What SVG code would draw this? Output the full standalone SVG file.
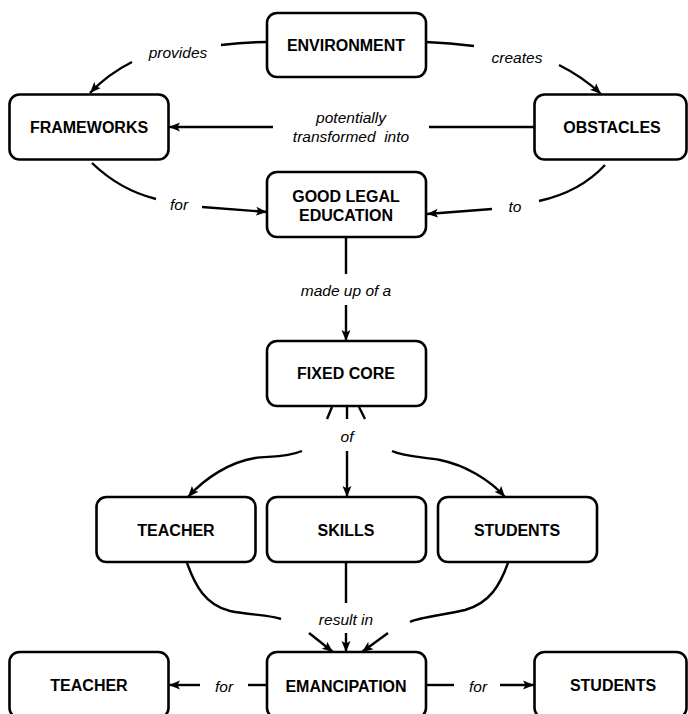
<svg xmlns="http://www.w3.org/2000/svg" width="688" height="714" viewBox="0 0 688 714">
<defs>
<marker id="ah" markerUnits="userSpaceOnUse" markerWidth="12" markerHeight="10" refX="11" refY="5" orient="auto">
<path d="M0,0.5 L11,5 L0,9.5 L2.5,5 Z" fill="#000"/>
</marker>
<style>
.box{fill:#fff;stroke:#000;stroke-width:2.6}
.nt{font-family:"Liberation Sans",Arial,sans-serif;font-weight:bold;font-size:16px;text-anchor:middle;dominant-baseline:central;fill:#000}
.lb{font-family:"Liberation Sans",Arial,sans-serif;font-style:italic;font-size:15.5px;text-anchor:middle;dominant-baseline:central;fill:#000}
.c{fill:none;stroke:#000;stroke-width:2.4}
.a{marker-end:url(#ah)}
</style>
</defs>
<rect width="688" height="714" fill="#fff"/>
<g id="connectors">
<path class="c" d="M267,42 Q245,42 221,45"/>
<path class="c a" d="M132,62 Q108,74 90,93"/>
<path class="c" d="M426,42 Q450,43 474,46"/>
<path class="c a" d="M559,65 Q583,77 601,94"/>
<path class="c" d="M534,127 L429,127"/>
<path class="c a" d="M273,127 L169,127"/>
<path class="c" d="M92,163 Q120,190 156,199"/>
<path class="c a" d="M202,207 L267,212"/>
<path class="c" d="M605,165 Q580,192 539,201"/>
<path class="c a" d="M492,209 L427,214"/>
<path class="c" d="M346,238 L346,274"/>
<path class="c a" d="M346,305 L346,341"/>
<path class="c" d="M332,407 L327,419"/>
<path class="c" d="M347,407 L347,419"/>
<path class="c" d="M359,407 L365,419"/>
<path class="c a" d="M302,451 C285,458 268,456 255,458 C230,462 205,478 188,497"/>
<path class="c a" d="M347,451 L347,497"/>
<path class="c a" d="M392,451 C405,457 425,457 440,460 C465,465 490,480 505,497"/>
<path class="c" d="M187,563 C195,585 205,605 230,611 C250,615 270,615 281,619"/>
<path class="c" d="M346,563 L346,603"/>
<path class="c" d="M508,563 C500,585 490,603 465,610 C445,615 420,617 410,622"/>
<path class="c a" d="M309,633 L333,652"/>
<path class="c a" d="M346,633 L346,652"/>
<path class="c a" d="M388,633 L362,652"/>
<path class="c" d="M267,685 L248,685"/>
<path class="c a" d="M200,685 L169,685"/>
<path class="c" d="M426,685 L454,685"/>
<path class="c a" d="M500,685 L534,685"/>
</g>
<g id="labels">
<text class="lb" x="178" y="52">provides</text>
<text class="lb" x="517" y="57">creates</text>
<text class="lb" x="351" y="117">potentially</text>
<text class="lb" x="351" y="136" xml:space="preserve">transformed  into</text>
<text class="lb" x="179" y="204">for</text>
<text class="lb" x="515" y="206">to</text>
<text class="lb" x="346" y="290">made up of a</text>
<text class="lb" x="347" y="436">of</text>
<text class="lb" x="346" y="619">result in</text>
<text class="lb" x="224" y="686">for</text>
<text class="lb" x="478" y="686">for</text>
</g>
<g id="environment"><rect class="box" x="267" y="13" width="159" height="64" rx="10"/><text class="nt" x="346" y="45">ENVIRONMENT</text></g>
<g id="frameworks"><rect class="box" x="9.5" y="94.5" width="159" height="65" rx="10"/><text class="nt" x="89" y="127">FRAMEWORKS</text></g>
<g id="obstacles"><rect class="box" x="534.5" y="94.5" width="152" height="65" rx="10"/><text class="nt" x="612" y="127">OBSTACLES</text></g>
<g id="good-legal-education"><rect class="box" x="267" y="172" width="159" height="65" rx="10"/><text class="nt" x="346" y="196">GOOD LEGAL</text><text class="nt" x="346" y="215">EDUCATION</text></g>
<g id="fixed-core"><rect class="box" x="267" y="341" width="159" height="65" rx="10"/><text class="nt" x="346" y="373">FIXED CORE</text></g>
<g id="teacher"><rect class="box" x="96.5" y="497" width="159" height="65" rx="10"/><text class="nt" x="176" y="530">TEACHER</text></g>
<g id="skills"><rect class="box" x="267" y="497" width="159" height="65" rx="10"/><text class="nt" x="346" y="530">SKILLS</text></g>
<g id="students"><rect class="box" x="438" y="497" width="159" height="65" rx="10"/><text class="nt" x="517" y="530">STUDENTS</text></g>
<g id="emancipation"><rect class="box" x="267" y="652" width="159" height="66" rx="10"/><text class="nt" x="346" y="686">EMANCIPATION</text></g>
<g id="teacher-2"><rect class="box" x="9.5" y="652" width="159" height="66" rx="10"/><text class="nt" x="89" y="685">TEACHER</text></g>
<g id="students-2"><rect class="box" x="534.5" y="652" width="152" height="66" rx="10"/><text class="nt" x="613" y="685">STUDENTS</text></g>
</svg>
